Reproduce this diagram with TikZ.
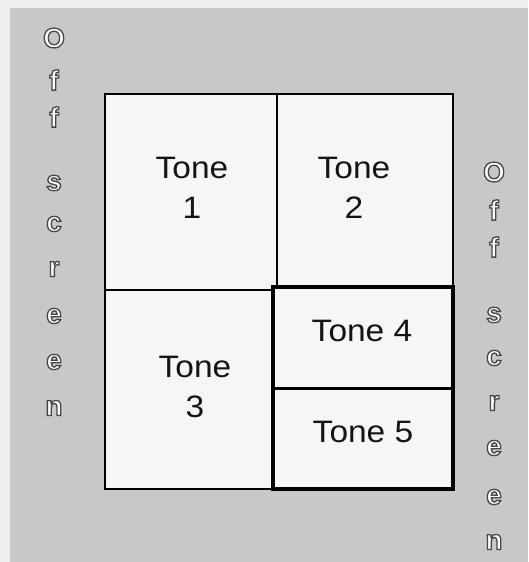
\documentclass[tikz,border=0pt]{standalone}
\usepackage{fontspec}
\setmainfont{Liberation Sans}
\newfontfamily\tonefont[FakeStretch=1.08]{Liberation Sans}
\definecolor{bgdots}{RGB}{200,200,200}
\definecolor{bgedge}{RGB}{238,238,238}
\definecolor{cellfill}{RGB}{246,246,246}
\newcommand{\hollow}[1]{\special{pdf:literal direct 2 Tr 1.3 w 0.28 G}#1\special{pdf:literal direct 0 Tr 0 G}}
\tikzset{
  tonetext/.style={font=\tonefont\fontsize{31}{40}\selectfont, align=center, inner sep=0pt, text=black!92},
  lettr/.style={font=\bfseries\fontsize{28}{28}\selectfont, inner sep=0pt, text=white},
  thinline/.style={line width=2.2pt, draw=black},
  boldline/.style={line width=4pt, draw=black},
}
\begin{document}
\begin{tikzpicture}[x=1pt,y=-1pt]
\useasboundingbox (0,0) rectangle (528,562);
\fill[bgedge] (0,0) rectangle (528,562);
\fill[bgdots] (10,8) rectangle (528,562);
% cells
\fill[cellfill] (105,94) rectangle (453,489);
\draw[thinline] (105,94) rectangle (453,489);
\draw[thinline] (277,94) -- (277,288);
\draw[thinline] (105,290) -- (273,290);
\draw[boldline] (273,287) rectangle (453,489);
\draw[line width=3pt] (273,388) -- (453,388);
% texts
\node[tonetext] (t1) at (192,188) {Tone\\1};
\node[tonetext] (t2) at (354,188) {Tone\\2};
\node[tonetext] (t3) at (195,387) {Tone\\3};
\node[tonetext] (t4) at (362,331) {Tone 4};
\node[tonetext] (t5) at (363,432) {Tone 5};
% left Off screen
\foreach \n/\y/\c in {1/38/O,2/80/f,3/117/f,4/183/s,5/224/c,6/269/r,7/316/e,8/362/e,9/408/n}
  \node[lettr] (l\n) at (54,\y) {\hollow{\c}};
% right Off screen
\foreach \n/\y/\c in {1/172/O,2/210/f,3/247/f,4/315/s,5/358/c,6/403/r,7/448/e,8/497/e,9/542/n}
  \node[lettr] (r\n) at (494,\y) {\hollow{\c}};
\end{tikzpicture}
\end{document}
